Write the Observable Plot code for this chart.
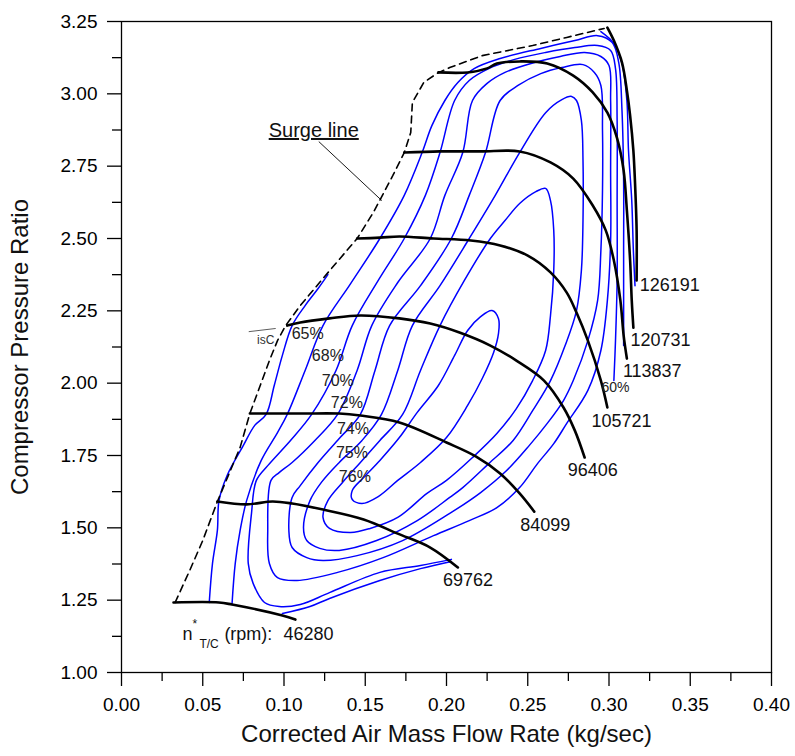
<!DOCTYPE html>
<html>
<head>
<meta charset="utf-8">
<script src="https://cdn.jsdelivr.net/npm/d3@7"></script>
<script src="https://cdn.jsdelivr.net/npm/@observablehq/plot@0.6"></script>
<style>
  body { margin: 0; background: #fff; }
  #chart svg { display: block; }
</style>
</head>
<body>
<div id="chart"></div>
<script>
// ---------- axis ticks ----------
const xMajor = [0, 0.05, 0.10, 0.15, 0.20, 0.25, 0.30, 0.35, 0.40];
const xMinor = [0.025, 0.075, 0.125, 0.175, 0.225, 0.275, 0.325, 0.375];
const yMajor = [1.00, 1.25, 1.50, 1.75, 2.00, 2.25, 2.50, 2.75, 3.00, 3.25];
const yMinor = [1.125, 1.375, 1.625, 1.875, 2.125, 2.375, 2.625, 2.875, 3.125];

// ---------- corrected turbocharger speed lines [mass flow kg/s, pressure ratio] ----------
const speedRpm = ["46280", "69762", "84099", "96406", "105721", "113837", "120731", "126191"];
const n46280 = [[0.032,1.242],[0.060,1.242],[0.068,1.235],[0.099,1.197],[0.107,1.183]];
const n69762 = [[0.059,1.591],[0.077,1.581],[0.093,1.591],[0.105,1.584],[0.124,1.563],[0.149,1.529],[0.170,1.480],[0.190,1.432],[0.207,1.363]];
const n84099 = [[0.079,1.895],[0.110,1.895],[0.134,1.895],[0.147,1.888],[0.171,1.864],[0.200,1.795],[0.218,1.747],[0.233,1.688],[0.245,1.619],[0.254,1.556]];
const n96406 = [[0.102,2.199],[0.110,2.210],[0.128,2.224],[0.147,2.234],[0.171,2.224],[0.190,2.206],[0.208,2.175],[0.227,2.130],[0.243,2.078],[0.260,2.009],[0.272,1.916],[0.279,1.836],[0.285,1.743]];
const n105721 = [[0.145,2.500],[0.159,2.503],[0.171,2.507],[0.192,2.500],[0.215,2.493],[0.233,2.476],[0.250,2.441],[0.264,2.383],[0.274,2.313],[0.280,2.244],[0.287,2.147],[0.295,2.009],[0.299,1.916]];
const n113837 = [[0.174,2.797],[0.196,2.801],[0.221,2.801],[0.245,2.801],[0.264,2.763],[0.278,2.707],[0.290,2.614],[0.298,2.528],[0.303,2.424],[0.307,2.286],[0.309,2.165],[0.311,2.085]];
const n120731 = [[0.195,3.074],[0.213,3.074],[0.225,3.088],[0.231,3.105],[0.245,3.112],[0.262,3.105],[0.278,3.063],[0.290,3.005],[0.299,2.935],[0.305,2.846],[0.309,2.735],[0.311,2.597],[0.313,2.424],[0.314,2.286],[0.315,2.192]];
const n126191 = [[0.299,3.229],[0.303,3.184],[0.308,3.108],[0.311,3.012],[0.313,2.925],[0.315,2.804],[0.316,2.694],[0.317,2.528],[0.317,2.355]];
const speedCurves = [n46280, n69762, n84099, n96406, n105721, n113837, n120731, n126191];

// ---------- surge line ----------
const surge = [[0.033,1.242],[0.042,1.353],[0.050,1.456],[0.059,1.591],[0.073,1.778],[0.079,1.895],[0.091,2.078],[0.096,2.147],[0.101,2.199],[0.110,2.268],[0.124,2.362],[0.145,2.500],[0.155,2.590],[0.167,2.718],[0.174,2.797],[0.178,2.866],[0.179,2.970],[0.186,3.039],[0.194,3.070],[0.202,3.091],[0.222,3.132],[0.253,3.167],[0.274,3.195],[0.297,3.226]];

// ---------- isentropic efficiency contours ----------
// closed islands
const eff76 = [[0.228,2.251],[0.232,2.223],[0.232,2.172],[0.229,2.106],[0.222,2.016],[0.213,1.923],[0.200,1.812],[0.184,1.726],[0.170,1.664],[0.158,1.608],[0.148,1.584],[0.142,1.598],[0.142,1.629],[0.149,1.674],[0.159,1.733],[0.171,1.812],[0.182,1.899],[0.195,1.992],[0.205,2.096],[0.213,2.182],[0.221,2.230]];
const eff75 = [[0.124,1.536],[0.128,1.498],[0.141,1.484],[0.153,1.498],[0.170,1.536],[0.188,1.619],[0.200,1.664],[0.216,1.743],[0.231,1.826],[0.243,1.912],[0.253,2.009],[0.261,2.113],[0.264,2.234],[0.266,2.389],[0.266,2.528],[0.264,2.631],[0.261,2.673],[0.255,2.662],[0.245,2.621],[0.236,2.562],[0.227,2.500],[0.211,2.355],[0.196,2.199],[0.184,2.044],[0.173,1.892],[0.159,1.802],[0.147,1.726],[0.136,1.657],[0.127,1.594]];
const eff74 = [[0.116,1.594],[0.112,1.501],[0.114,1.456],[0.122,1.429],[0.134,1.422],[0.157,1.456],[0.182,1.525],[0.202,1.605],[0.210,1.639],[0.226,1.722],[0.241,1.802],[0.253,1.905],[0.264,2.009],[0.273,2.130],[0.280,2.251],[0.283,2.389],[0.284,2.562],[0.284,2.770],[0.283,2.908],[0.280,2.977],[0.277,2.991],[0.271,2.980],[0.261,2.935],[0.245,2.797],[0.230,2.649],[0.214,2.500],[0.196,2.337],[0.179,2.199],[0.170,2.044],[0.160,1.892],[0.148,1.802],[0.134,1.726],[0.123,1.657]];
const eff72 = [[0.105,1.605],[0.103,1.491],[0.105,1.432],[0.114,1.397],[0.124,1.387],[0.145,1.404],[0.173,1.456],[0.202,1.550],[0.221,1.622],[0.237,1.698],[0.251,1.785],[0.262,1.861],[0.272,1.940],[0.278,2.009],[0.287,2.147],[0.293,2.286],[0.295,2.458],[0.296,2.666],[0.296,2.873],[0.295,3.029],[0.291,3.074],[0.284,3.101],[0.271,3.091],[0.258,3.070],[0.244,3.029],[0.233,2.977],[0.224,2.797],[0.214,2.649],[0.203,2.500],[0.184,2.337],[0.165,2.199],[0.156,2.044],[0.147,1.892],[0.134,1.809],[0.121,1.726],[0.110,1.646]];
const eff70 = [[0.092,1.664],[0.090,1.491],[0.091,1.377],[0.096,1.328],[0.108,1.318],[0.133,1.346],[0.161,1.397],[0.192,1.473],[0.214,1.525],[0.231,1.570],[0.245,1.639],[0.256,1.722],[0.266,1.791],[0.274,1.861],[0.287,1.975],[0.295,2.113],[0.299,2.286],[0.301,2.493],[0.301,2.735],[0.301,2.977],[0.300,3.098],[0.295,3.129],[0.285,3.143],[0.270,3.129],[0.252,3.105],[0.236,3.074],[0.225,3.036],[0.216,2.977],[0.210,2.797],[0.199,2.649],[0.190,2.500],[0.170,2.348],[0.154,2.199],[0.145,2.044],[0.133,1.892],[0.119,1.802],[0.105,1.726],[0.097,1.691]];
// open contours, cut by the surge line or by the speed-line limits
const eff68 = [[0.203,1.391],[0.184,1.370],[0.159,1.346],[0.128,1.276],[0.110,1.235],[0.097,1.228],[0.088,1.242],[0.081,1.308],[0.078,1.377],[0.080,1.550],[0.083,1.664],[0.090,1.715],[0.104,1.802],[0.117,1.892],[0.132,2.044],[0.142,2.199],[0.158,2.355],[0.174,2.500],[0.187,2.649],[0.196,2.797],[0.205,2.977],[0.214,3.046],[0.226,3.087],[0.242,3.119],[0.261,3.143],[0.279,3.160],[0.293,3.167],[0.301,3.150],[0.304,3.087],[0.305,2.908],[0.305,2.631],[0.305,2.355],[0.304,2.147],[0.303,2.009]];
const eff65 = [[0.068,1.235],[0.070,1.377],[0.073,1.491],[0.077,1.594],[0.086,1.733],[0.096,1.829],[0.102,1.892],[0.113,2.044],[0.124,2.199],[0.141,2.344],[0.159,2.500],[0.174,2.649],[0.185,2.797],[0.191,2.890],[0.199,2.977],[0.207,3.039],[0.217,3.087],[0.233,3.122],[0.258,3.157],[0.279,3.184],[0.293,3.201],[0.302,3.177],[0.306,3.108],[0.308,2.942],[0.309,2.700],[0.309,2.458],[0.309,2.286],[0.309,2.130]];
const eff65low = [[0.099,1.204],[0.116,1.228],[0.128,1.256],[0.159,1.318],[0.184,1.359],[0.203,1.384]];
const eff60left = [[0.054,1.242],[0.056,1.377],[0.059,1.491],[0.060,1.594],[0.065,1.681],[0.075,1.785],[0.082,1.854],[0.089,1.892],[0.094,1.992],[0.099,2.096],[0.105,2.199],[0.113,2.268],[0.121,2.327],[0.127,2.375]];
const eff60right = [[0.295,3.215],[0.303,3.174],[0.308,3.105],[0.311,2.977],[0.312,2.804],[0.314,2.631],[0.315,2.458],[0.316,2.337]];

const closedContours = [eff76, eff75, eff74, eff72, eff70];
const openContours = [eff68, eff65, eff65low, eff60left, eff60right];

// efficiency labels [text, mass flow, pressure ratio]
const effText = ["65%", "68%", "70%", "72%", "74%", "75%", "76%", "60%"];
const effX = [0.1146, 0.1270, 0.1331, 0.1387, 0.1424, 0.1418, 0.1436, 0.3040];
const effY = [2.172, 2.096, 2.009, 1.933, 1.843, 1.760, 1.677, 1.985];

// annotations
const surgeNote = {text: "Surge line", x: 0.1183, y: 2.873};
const surgeLeader = [{x1: 0.1214, y1: 2.835, x2: 0.1602, y2: 2.631}];
const etaNote = {text: "isC", x: 0.0887, y: 2.147};
const etaBar = [{x1: 0.0783, y1: 2.178, x2: 0.0949, y2: 2.189}];

// ---------- tables for the marks ----------
const toRows = (curves, prefix) => curves.flatMap((pts, i) => pts.map(([x, y]) => ({x, y, id: prefix + i})));
const speedRows = toRows(speedCurves, "n");
const closedRows = toRows(closedContours, "c");
const openRows = toRows(openContours, "o");
const effRows = effText.map((t, i) => ({t, x: effX[i], y: effY[i], size: t === "60%" ? 14 : 16}));

// speed labels sit just past the end of each line
const labelShift = {"126191": [3, 5], "120731": [-3, 13], "113837": [-4, 13], "105721": [-16, 14],
                    "96406": [-17, 13], "84099": [-14, 14], "69762": [-15, 13], "46280": [-12, 15]};
const speedLabelMarks = speedRpm.map((rpm, i) => {
  const [x, y] = speedCurves[i][speedCurves[i].length - 1];
  const [dx, dy] = labelShift[rpm];
  return Plot.text([{x, y, t: rpm}], {x: "x", y: "y", text: "t", dx, dy, textAnchor: "start", fontSize: 18, fill: "#111"});
});
const end46280 = n46280[n46280.length - 1];
const rpmPrefix = [
  Plot.text([end46280], {x: d => d[0], y: d => d[1], text: () => "n", dx: -113, dy: 15, textAnchor: "start", fontSize: 18, fill: "#111"}),
  Plot.text([end46280], {x: d => d[0], y: d => d[1], text: () => "*", dx: -103, dy: 5, textAnchor: "start", fontSize: 12, fill: "#111"}),
  Plot.text([end46280], {x: d => d[0], y: d => d[1], text: () => "T/C", dx: -96, dy: 25, textAnchor: "start", fontSize: 12, fill: "#111"}),
  Plot.text([end46280], {x: d => d[0], y: d => d[1], text: () => "(rpm):", dx: -71, dy: 15, textAnchor: "start", fontSize: 18, fill: "#111"})
];

const chart = Plot.plot({
  width: 795,
  height: 756,
  marginLeft: 121,
  marginRight: 24,
  marginTop: 21,
  marginBottom: 84,
  x: {domain: [0, 0.4]},
  y: {domain: [1, 3.25]},
  style: {fontFamily: "'Liberation Sans', Arial, sans-serif", background: "#fff", color: "#000"},
  marks: [
    Plot.frame({stroke: "#000", strokeWidth: 1.3}),
    Plot.axisX({ticks: xMajor, tickFormat: d3.format(".2f"), tickSize: 14, tickPadding: 11, fontSize: 19, label: null, strokeWidth: 1.3}),
    Plot.axisX({ticks: xMinor, tickFormat: () => "", tickSize: 9, label: null, strokeWidth: 1.3}),
    Plot.axisY({ticks: yMajor, tickFormat: d3.format(".2f"), tickSize: 14, tickPadding: 10, fontSize: 19, label: null, strokeWidth: 1.3}),
    Plot.axisY({ticks: yMinor, tickFormat: () => "", tickSize: 9, label: null, strokeWidth: 1.3}),
    Plot.text(["Corrected Air Mass Flow Rate (kg/sec)"], {frameAnchor: "bottom", dy: 69, textAnchor: "middle", fontSize: 24, fill: "#111"}),
    Plot.text(["Compressor Pressure Ratio"], {frameAnchor: "left", dx: -101, rotate: -90, textAnchor: "middle", fontSize: 24, fill: "#111"}),

    // efficiency contours
    Plot.line(closedRows, {x: "x", y: "y", z: "id", curve: "catmull-rom-closed", stroke: "#0000ff", strokeWidth: 1.5}),
    Plot.line(openRows, {x: "x", y: "y", z: "id", curve: "catmull-rom", stroke: "#0000ff", strokeWidth: 1.5}),

    // speed lines and surge line
    Plot.line(speedRows, {x: "x", y: "y", z: "id", curve: "catmull-rom", stroke: "#000", strokeWidth: 2.6}),
    Plot.line(surge, {x: d => d[0], y: d => d[1], stroke: "#000", strokeWidth: 1.6, strokeDasharray: "7,5"}),

    // labels
    Plot.text(effRows, {x: "x", y: "y", text: "t", fontSize: "size", fill: "#222"}),
    ...speedLabelMarks,
    ...rpmPrefix,
    Plot.text([surgeNote], {x: "x", y: "y", text: "text", fontSize: 20, fill: "#111"}),
    Plot.link(surgeLeader, {x1: "x1", y1: "y1", x2: "x2", y2: "y2", stroke: "#000", strokeWidth: 0.9}),
    Plot.text([etaNote], {x: "x", y: "y", text: "text", fontSize: 12, fill: "#333"}),
    Plot.link(etaBar, {x1: "x1", y1: "y1", x2: "x2", y2: "y2", stroke: "#333", strokeWidth: 0.8})
  ]
});

d3.select(chart).selectAll("text")
  .filter(function () { return this.textContent === "Surge line"; })
  .style("text-decoration", "underline");

document.getElementById("chart").appendChild(chart);
</script>
</body>
</html>
